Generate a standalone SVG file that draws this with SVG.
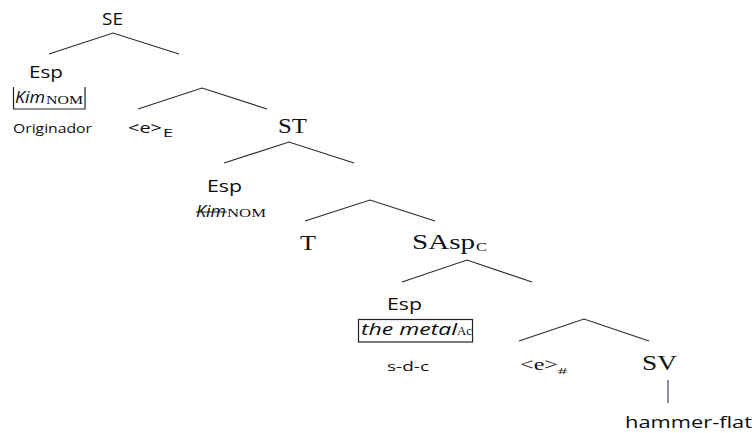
<svg xmlns="http://www.w3.org/2000/svg" width="754" height="433" viewBox="0 0 754 433">
<style>
.bg{fill:#ffffff}
.br{fill:none;stroke:#2a2a2a;stroke-width:1.1}
.sans{font-family:"Open Sans","Liberation Sans",Arial,sans-serif;fill:#0d0d0d;font-weight:normal}
.it{font-style:italic}
.ser{font-family:"Liberation Serif","Times New Roman",serif;fill:#111}
.box{fill:none;stroke:#222;stroke-width:1.2}
</style>
<rect class="bg" x="0" y="0" width="754" height="433"/>
<g id="connectors">
<polyline class="br" points="49,54 113,33 179,54"/>
<polyline class="br" points="138,109 202,88 267,109"/>
<polyline class="br" points="224,163 289,142 354,163"/>
<polyline class="br" points="305,221 370,200 435,221"/>
<polyline class="br" points="402,282 467,260 532,282"/>
<polyline class="br" points="519,341 584,319 649,341"/>
<line x1="668" y1="380" x2="668" y2="403" stroke="#5a4f7a" stroke-width="1.3"/>
</g>
<g id="node-SE"><text class="sans" x="102" y="25" font-size="16.5" textLength="21" lengthAdjust="spacingAndGlyphs">SE</text></g>
<g id="node-Esp1">
<text class="sans" x="29" y="78" font-size="16" textLength="34" lengthAdjust="spacingAndGlyphs">Esp</text>
<path class="box" d="M13.5,87 V109 H85 V87"/>
<text class="sans it" x="15" y="103" font-size="15.5" textLength="30" lengthAdjust="spacingAndGlyphs">Kim</text>
<text class="ser" x="46" y="104" font-size="12" textLength="37" lengthAdjust="spacingAndGlyphs">NOM</text>
</g>
<g id="node-Originador"><text class="sans" x="13" y="133" font-size="12" textLength="79" lengthAdjust="spacingAndGlyphs">Originador</text></g>
<g id="node-eE">
<text class="sans" x="128" y="133" font-size="14.5" textLength="34" lengthAdjust="spacingAndGlyphs">&lt;e&gt;</text>
<text class="sans" x="163" y="137" font-size="11" textLength="10" lengthAdjust="spacingAndGlyphs">E</text>
</g>
<g id="node-ST"><text class="ser" x="278" y="133" font-size="21" textLength="29" lengthAdjust="spacingAndGlyphs">ST</text></g>
<g id="node-Esp2">
<text class="sans" x="207" y="192" font-size="16" textLength="35" lengthAdjust="spacingAndGlyphs">Esp</text>
<text class="sans it" x="196" y="217" font-size="15.5" textLength="30" lengthAdjust="spacingAndGlyphs">Kim</text>
<line x1="196" y1="212" x2="227" y2="212" stroke="#222" stroke-width="1"/>
<text class="ser" x="227" y="217" font-size="12" textLength="39" lengthAdjust="spacingAndGlyphs">NOM</text>
</g>
<g id="node-T"><text class="ser" x="300" y="250" font-size="21" textLength="16" lengthAdjust="spacingAndGlyphs">T</text></g>
<g id="node-SAspC">
<text class="ser" x="412" y="249" font-size="21" textLength="63" lengthAdjust="spacingAndGlyphs">SAsp</text>
<text class="ser" x="476" y="251" font-size="13" textLength="11" lengthAdjust="spacingAndGlyphs">C</text>
</g>
<g id="node-Esp3">
<text class="sans" x="387" y="310" font-size="16" textLength="35" lengthAdjust="spacingAndGlyphs">Esp</text>
<rect class="box" x="358.5" y="319.5" width="114" height="22.5"/>
<text class="sans it" x="361" y="335" font-size="16.5" textLength="96" lengthAdjust="spacingAndGlyphs">the metal</text>
<text class="ser" x="457" y="335" font-size="12" textLength="15" lengthAdjust="spacingAndGlyphs">Ac</text>
</g>
<g id="node-sdc"><text class="sans" x="387" y="371" font-size="13.5" textLength="42" lengthAdjust="spacingAndGlyphs">s-d-c</text></g>
<g id="node-eHash">
<text class="ser" x="520" y="370" font-size="17" textLength="38" lengthAdjust="spacingAndGlyphs">&lt;e&gt;</text>
<text class="ser" x="558" y="374" font-size="9" textLength="9" lengthAdjust="spacingAndGlyphs">#</text>
</g>
<g id="node-SV"><text class="ser" x="642" y="370" font-size="21" textLength="35" lengthAdjust="spacingAndGlyphs">SV</text></g>
<g id="node-hammer"><text class="sans" x="625" y="428" font-size="17" textLength="127" lengthAdjust="spacingAndGlyphs">hammer-flat</text></g>
</svg>
